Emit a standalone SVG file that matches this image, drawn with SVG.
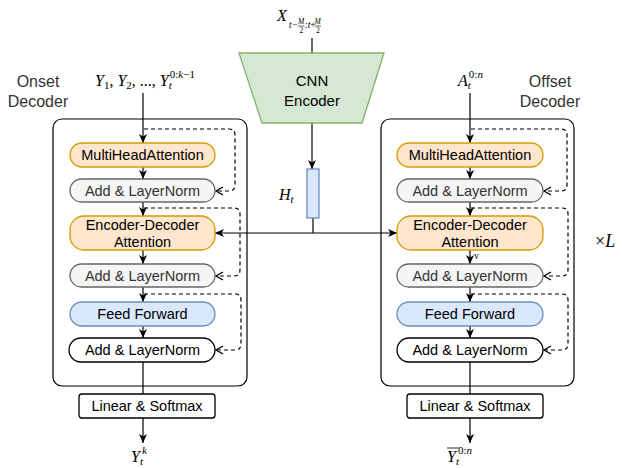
<svg xmlns="http://www.w3.org/2000/svg" width="622" height="468" viewBox="0 0 622 468">
<defs>
<style>
.lbl{font-family:"Liberation Sans",Arial,sans-serif;font-size:14.5px;text-anchor:middle;fill:#000}
.dk{fill:#333}
.cnn{font-size:15px}
.big{font-family:"Liberation Sans",Arial,sans-serif;font-size:16px;text-anchor:middle;fill:#333}
.math{font-family:"Liberation Serif","Times New Roman",serif;fill:#000}
.it{font-style:italic}
.orange{fill:#ffe6cc;stroke:#d79b00;stroke-width:1.3}
.gray{fill:#f5f5f5;stroke:#666;stroke-width:1.3}
.blue{fill:#dae8fc;stroke:#6c8ebf;stroke-width:1.3}
.white{fill:#fff;stroke:#000;stroke-width:1.3}
.outer{fill:none;stroke:#000;stroke-width:1.2}
.ln{fill:none;stroke:#000;stroke-width:1.2}
.dash{fill:none;stroke:#000;stroke-width:1.2;stroke-dasharray:4 3}
</style>
<marker id="ah" markerWidth="10" markerHeight="8" refX="9" refY="4" orient="auto" markerUnits="userSpaceOnUse">
<path d="M0,0 L9,4 L0,8 L2.5,4 z" fill="#000"/>
</marker>
<marker id="oa" markerWidth="10" markerHeight="10" refX="8" refY="5" orient="auto" markerUnits="userSpaceOnUse">
<path d="M1,1 L8,5 L1,9" fill="none" stroke="#000" stroke-width="1.3"/>
</marker>
</defs>

<g id="onset-decoder">
<rect class="outer" x="53" y="119" width="194" height="267" rx="9"/>
</g>
<g id="offset-decoder">
<rect class="outer" x="381" y="119" width="193" height="267" rx="9"/>
</g>

<g id="labels">
<text class="big" x="38" y="87">Onset</text>
<text class="big" x="38" y="107">Decoder</text>
<text class="big" x="550" y="87">Offset</text>
<text class="big" x="550" y="107">Decoder</text>
<text class="math" x="595" y="247" font-size="18">×<tspan class="it">L</tspan></text>
</g>

<g id="connectors">
<line class="ln" x1="312" y1="38" x2="312" y2="53"/>
<line class="ln" x1="312" y1="123" x2="312" y2="169" marker-end="url(#ah)"/>
<line class="ln" x1="313" y1="218" x2="313" y2="233"/>
<line class="ln" x1="313" y1="233" x2="215" y2="233" marker-end="url(#ah)"/>
<line class="ln" x1="313" y1="233" x2="397" y2="233" marker-end="url(#ah)"/>

<line class="ln" x1="143" y1="93" x2="143" y2="143" stroke-width="1.6" marker-end="url(#ah)"/>
<line class="ln" x1="143" y1="167" x2="143" y2="179" marker-end="url(#ah)"/>
<line class="ln" x1="143" y1="202" x2="143" y2="216" marker-end="url(#ah)"/>
<line class="ln" x1="143" y1="250" x2="143" y2="264" marker-end="url(#ah)"/>
<line class="ln" x1="143" y1="287" x2="143" y2="302" marker-end="url(#ah)"/>
<line class="ln" x1="143" y1="326" x2="143" y2="338" marker-end="url(#ah)"/>
<line class="ln" x1="143" y1="362" x2="143" y2="394"/>
<line class="ln" x1="143" y1="418" x2="143" y2="443" marker-end="url(#ah)"/>
<path class="dash" d="M144,129 L229,129 Q235,129 235,135 L235,185 Q235,191 229,191 L216,191" marker-end="url(#oa)"/>
<path class="dash" d="M144,208 L234,208 Q240,208 240,214 L240,270 Q240,276 234,276 L216,276" marker-end="url(#oa)"/>
<path class="dash" d="M144,294 L235,294 Q241,294 241,300 L241,344 Q241,350 235,350 L216,350" marker-end="url(#oa)"/>

<line class="ln" x1="470" y1="93" x2="470" y2="143" marker-end="url(#ah)"/>
<line class="ln" x1="470" y1="167" x2="470" y2="179" marker-end="url(#ah)"/>
<line class="ln" x1="470" y1="202" x2="470" y2="216" marker-end="url(#ah)"/>
<line class="ln" x1="470" y1="250" x2="470" y2="264" marker-end="url(#ah)"/>
<line class="ln" x1="470" y1="287" x2="470" y2="302" marker-end="url(#ah)"/>
<line class="ln" x1="470" y1="326" x2="470" y2="338" marker-end="url(#ah)"/>
<line class="ln" x1="470" y1="362" x2="470" y2="394"/>
<line class="ln" x1="470" y1="418" x2="470" y2="443" marker-end="url(#ah)"/>
<path class="dash" d="M471,129 L561,129 Q567,129 567,135 L567,185 Q567,191 561,191 L544,191" marker-end="url(#oa)"/>
<path class="dash" d="M471,208 L562,208 Q568,208 568,214 L568,270 Q568,276 562,276 L544,276" marker-end="url(#oa)"/>
<path class="dash" d="M471,294 L562,294 Q568,294 568,300 L568,344 Q568,350 562,350 L544,350" marker-end="url(#oa)"/>
</g>

<g id="cnn-encoder">
<polygon points="239,53 384,53 362,123 262,123" fill="#d5e8d4" stroke="#82b366" stroke-width="1.3"/>
<text class="lbl cnn" x="312" y="86">CNN</text>
<text class="lbl cnn" x="312" y="106">Encoder</text>
</g>

<g id="h-t">
<rect class="blue" x="307" y="169" width="12" height="49"/>
<text class="math" x="279" y="200" font-size="16"><tspan class="it">H</tspan><tspan class="it" font-size="11" dy="3">t</tspan></text>
</g>

<g id="l-mha"><rect class="orange" x="70" y="143" width="145" height="24" rx="12"/><text class="lbl" x="142.5" y="160">MultiHeadAttention</text></g>
<g id="l-add1"><rect class="gray" x="70" y="179" width="145" height="23" rx="11.5"/><text class="lbl dk" x="142.5" y="196">Add &amp; LayerNorm</text></g>
<g id="l-encdec"><rect class="orange" x="70" y="216" width="145" height="34" rx="14"/><text class="lbl" x="142.5" y="229.5">Encoder-Decoder</text><text class="lbl" x="142.5" y="246.5">Attention</text></g>
<g id="l-add2"><rect class="gray" x="70" y="264" width="145" height="23" rx="11.5"/><text class="lbl dk" x="142.5" y="281">Add &amp; LayerNorm</text></g>
<g id="l-ff"><rect class="blue" x="70" y="302" width="145" height="24" rx="12"/><text class="lbl" x="142.5" y="319">Feed Forward</text></g>
<g id="l-add3"><rect class="white" x="69" y="338" width="146" height="24" rx="12"/><text class="lbl" x="142.5" y="355">Add &amp; LayerNorm</text></g>
<g id="l-linear"><rect class="white" x="79" y="394" width="136" height="24" rx="3"/><text class="lbl" x="147" y="411">Linear &amp; Softmax</text></g>

<g id="r-mha"><rect class="orange" x="397" y="143" width="146" height="24" rx="12"/><text class="lbl" x="470" y="160">MultiHeadAttention</text></g>
<g id="r-add1"><rect class="gray" x="397" y="179" width="146" height="23" rx="11.5"/><text class="lbl dk" x="470" y="196">Add &amp; LayerNorm</text></g>
<g id="r-encdec"><rect class="orange" x="397" y="216" width="146" height="34" rx="14"/><text class="lbl" x="470" y="229.5">Encoder-Decoder</text><text class="lbl" x="470" y="246.5">Attention</text></g>
<g id="r-add2"><rect class="gray" x="397" y="264" width="146" height="23" rx="11.5"/><text class="lbl dk" x="470" y="281">Add &amp; LayerNorm</text></g>
<g id="r-ff"><rect class="blue" x="397" y="302" width="146" height="24" rx="12"/><text class="lbl" x="470" y="319">Feed Forward</text></g>
<g id="r-add3"><rect class="white" x="397" y="338" width="146" height="24" rx="12"/><text class="lbl" x="470" y="355">Add &amp; LayerNorm</text></g>
<g id="r-linear"><rect class="white" x="407" y="394" width="136" height="24" rx="3"/><text class="lbl" x="475" y="411">Linear &amp; Softmax</text></g>
<text class="math" x="474" y="259" font-size="10">v</text>

<g id="x-input">
<text class="math it" x="277" y="21" font-size="16">X</text>
<text class="math it" x="289" y="28" font-size="9.5">t−</text>
<text class="math it" x="298" y="23.5" font-size="7.5">M</text>
<line x1="298" y1="26" x2="304.5" y2="26" stroke="#000" stroke-width="0.6"/>
<text class="math" x="299.5" y="33" font-size="7.5">2</text>
<text class="math" x="305" y="28" font-size="9.5">:<tspan class="it">t</tspan>+</text>
<text class="math it" x="314.5" y="23.5" font-size="7.5">M</text>
<line x1="314.5" y1="26" x2="321" y2="26" stroke="#000" stroke-width="0.6"/>
<text class="math" x="316" y="33" font-size="7.5">2</text>
</g>

<g id="y-input">
<text class="math" x="95" y="86" font-size="16"><tspan class="it">Y</tspan><tspan font-size="11" dy="3">1</tspan><tspan dy="-3">, </tspan><tspan class="it">Y</tspan><tspan font-size="11" dy="3">2</tspan><tspan dy="-3">, ..., </tspan><tspan class="it">Y</tspan><tspan class="it" font-size="11" dy="3">t</tspan><tspan font-size="11" dx="-2" dy="-11">0:<tspan class="it">k</tspan>−1</tspan></text>
</g>

<g id="a-input">
<text class="math" x="458" y="86" font-size="16"><tspan class="it">A</tspan><tspan class="it" font-size="11" dy="3">t</tspan><tspan font-size="11" dx="-2" dy="-11">0:<tspan class="it">n</tspan></tspan></text>
</g>

<g id="y-out-left">
<text class="math" x="131" y="462" font-size="16"><tspan class="it">Y</tspan><tspan class="it" font-size="11" dy="3">t</tspan><tspan class="it" font-size="11" dx="-1" dy="-11">k</tspan></text>
</g>

<g id="y-out-right">
<line x1="447" y1="448" x2="459" y2="448" stroke="#000" stroke-width="0.8"/>
<text class="math" x="447" y="462" font-size="16"><tspan class="it">Y</tspan><tspan class="it" font-size="11" dy="3">t</tspan><tspan font-size="11" dx="-1" dy="-11">0:<tspan class="it">n</tspan></tspan></text>
</g>
</svg>
